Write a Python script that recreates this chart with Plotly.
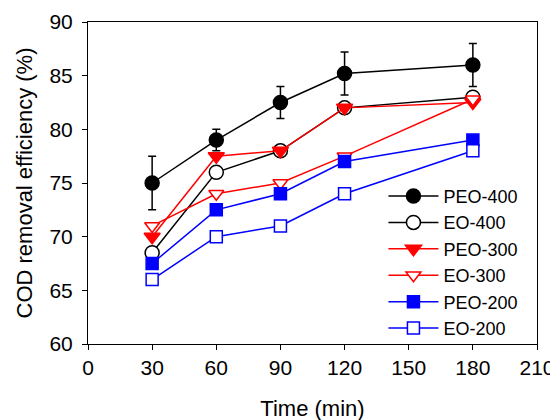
import plotly.graph_objects as go

time = [30, 60, 90, 120, 180]
peo400 = [75, 79, 82.5, 85.2, 86]
peo400_err = [2.5, 1, 1.5, 2, 2]
eo400 = [68.5, 76, 78, 82, 83]
peo300 = [70, 77.5, 78, 82, 82.5]
eo300 = [71, 74, 75, 77.5, 82.8]
peo200 = [67.5, 72.5, 74, 77, 79]
eo200 = [66, 70, 71, 74, 78]

series = [
    ("PEO-400", peo400, "black", "circle", "black", 14),
    ("EO-400", eo400, "black", "circle", "white", 14),
    ("PEO-300", peo300, "red", "triangle-down", "red", 14),
    ("EO-300", eo300, "red", "triangle-down", "white", 13),
    ("PEO-200", peo200, "blue", "square", "blue", 12),
    ("EO-200", eo200, "blue", "square", "white", 12),
]

fig = go.Figure()
for name, ys, col, sym, fill, sz in series:
    kw = {}
    if name == "PEO-400":
        kw["error_y"] = dict(type="data", array=peo400_err, visible=True,
                             color="black", thickness=1.5, width=4)
    fig.add_trace(go.Scatter(
        x=time, y=ys, name=name, mode="lines+markers",
        line=dict(color=col, width=1.5),
        marker=dict(symbol=sym, size=sz, color=fill,
                    line=dict(color=col, width=1.5)),
        **kw))

fig.update_layout(
    width=558, height=420,
    margin=dict(l=80, r=29, t=14, b=84),
    paper_bgcolor="white", plot_bgcolor="white",
    font=dict(family="Liberation Sans, Arial, sans-serif", size=21, color="black"),
    legend=dict(x=0.658, y=0.516, xanchor="left", yanchor="top",
                bgcolor="rgba(0,0,0,0)", font=dict(size=18),
                tracegroupgap=0, itemwidth=50),
    showlegend=True,
)
fig.update_xaxes(range=[0, 210], tickvals=[0, 30, 60, 90, 120, 150, 180, 210],
                 showgrid=False, zeroline=False, showline=True, linecolor="black",
                 linewidth=1, mirror=True, ticks="outside", ticklen=5,
                 tickcolor="black", automargin=False,
                 title=dict(text="Time (min)", standoff=22, font=dict(size=22)))
fig.update_yaxes(range=[60, 90], tickvals=[60, 65, 70, 75, 80, 85, 90],
                 showgrid=False, zeroline=False, showline=True, linecolor="black",
                 linewidth=1, mirror=True, ticks="outside", ticklen=5,
                 tickcolor="black", automargin=False, ticklabelstandoff=5,
                 title=dict(text="COD removal efficiency (%)", standoff=10, font=dict(size=22)))

fig.write_html("out.html")
